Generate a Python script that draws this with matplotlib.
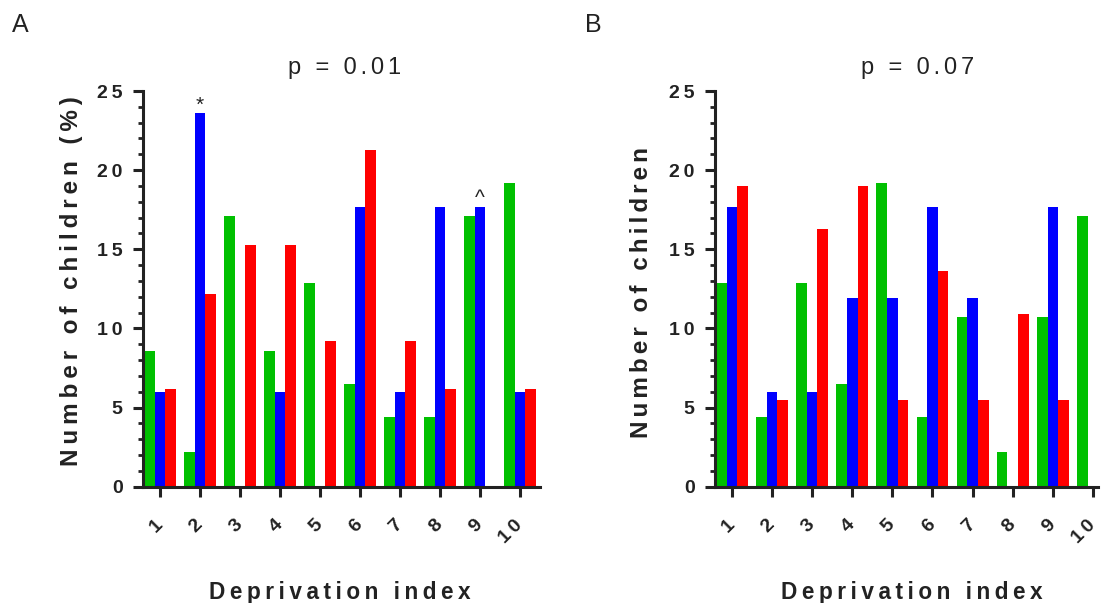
import matplotlib
matplotlib.use('Agg')
import matplotlib.pyplot as plt
import numpy as np
from matplotlib.ticker import MultipleLocator

plt.rcParams['font.family'] = ['Liberation Sans', 'DejaVu Sans']

# ---- data ----
groups = [1, 2, 3, 4, 5, 6, 7, 8, 9, 10]
tick_labels = ['1', '2', '3', '4', '5', '6', '7', '8', '9', '10']
a_green = [8.6, 2.2, 17.1, 8.6, 12.9, 6.5, 4.4, 4.4, 17.1, 19.2]
a_blue = [6.0, 23.6, 0, 6.0, 0, 17.7, 6.0, 17.7, 17.7, 6.0]
a_red = [6.2, 12.2, 15.3, 15.3, 9.2, 21.3, 9.2, 6.2, 0, 6.2]
b_green = [12.9, 4.4, 12.9, 6.5, 19.2, 4.4, 10.7, 2.2, 10.7, 17.1]
b_blue = [17.7, 6.0, 6.0, 11.9, 11.9, 17.7, 11.9, 0, 17.7, 0]
b_red = [19.0, 5.5, 16.3, 19.0, 5.5, 13.6, 5.5, 10.9, 5.5, 0]
titles = ['p = 0.01', 'p = 0.07']
ylabels = ['Number of children (%)', 'Number of children']
xlabel = 'Deprivation index'
annot_a = [(2, 23.6, '*'), (9, 17.7, '^')]

GREEN, BLUE, RED = '#00C000', '#0000FF', '#FF0000'
INK = '#222222'
SP = '\u2009'
CANDIDATES = ['\u200a', '\u2006', '\u2009', '\u2005', '\u2008', '\u2004',
              '\u2009\u200a', '\u2009\u2006', '\u2009\u2009', '\u2009\u2005']


def spaced(s, sep=SP):
    return sep.join(list(s))


W, H = 1105, 603
fig = plt.figure(figsize=(W / 100, H / 100), dpi=100)
renderer = fig.canvas.get_renderer()


def fit_text(xpx, ypx, s, target_len, rotation=0, **kw):
    """Place letter-spaced text, choosing the spacing whose length best fits."""
    best = None
    for sep in CANDIDATES:
        t = fig.text(xpx / W, 1 - ypx / H, spaced(s, sep), rotation=rotation, **kw)
        bb = t.get_window_extent(renderer)
        length = bb.height if rotation == 90 else bb.width
        err = abs(length - target_len)
        if best is None or err < best[0]:
            if best is not None:
                best[1].remove()
            best = (err, t)
        else:
            t.remove()
    return best[1]


axA = fig.add_axes([143 / W, 1 - 486.7 / H, (540 - 143) / W, (486.7 - 91) / H])
axB = fig.add_axes([715 / W, 1 - 486.7 / H, (1098 - 715) / W, (486.7 - 91) / H])

bw = 0.265
x = np.array(groups, dtype=float)
for ax, g, b, r, xl in [(axA, a_green, a_blue, a_red, (0.575, 10.5)),
                        (axB, b_green, b_blue, b_red, (0.58, 10.125))]:
    ax.bar(x - bw, g, width=bw, color=GREEN, linewidth=0)
    ax.bar(x, b, width=bw, color=BLUE, linewidth=0)
    ax.bar(x + bw, r, width=bw, color=RED, linewidth=0)
    ax.set_xlim(*xl)
    ax.set_ylim(0, 25)
    for s in ['top', 'right']:
        ax.spines[s].set_visible(False)
    for s in ['left', 'bottom']:
        ax.spines[s].set_linewidth(2.2)
        ax.spines[s].set_color(INK)
    ax.yaxis.set_major_locator(MultipleLocator(5))
    ax.yaxis.set_minor_locator(MultipleLocator(1))
    ax.set_yticks([0, 5, 10, 15, 20, 25])
    ax.set_yticklabels([spaced(str(v)) for v in [0, 5, 10, 15, 20, 25]])
    ax.set_xticks(groups)
    ax.set_xticklabels([spaced(t) for t in tick_labels])
    ax.tick_params(axis='both', which='major', length=7.2, width=2.2, color=INK,
                   labelcolor=INK, labelsize=14)
    ax.tick_params(axis='y', which='minor', length=3.6, width=2.0, color=INK)
    ax.tick_params(axis='y', which='major', pad=7.5)
    ax.tick_params(axis='x', which='major', pad=18.5)
    for lab in ax.get_yticklabels():
        lab.set_fontweight('bold')
    for lab in ax.get_xticklabels():
        lab.set_fontweight('bold')
        lab.set_rotation(45)
        lab.set_ha('right')
        lab.set_va('center')
        lab.set_rotation_mode('anchor')

for xg, yv, s in annot_a:
    axA.annotate(s, xy=(xg, yv), xytext=(0, -1), textcoords='offset points',
                 ha='center', va='bottom', fontsize=15, color=INK)

# titles
fit_text(344.5, 74, titles[0], 115, ha='center', va='baseline', fontsize=17, color=INK)
fit_text(917.5, 74, titles[1], 115, ha='center', va='baseline', fontsize=17, color=INK)

# panel letters
fig.text(12 / W, 1 - 32 / H, 'A', ha='left', va='baseline', fontsize=18, color=INK)
fig.text(585 / W, 1 - 32 / H, 'B', ha='left', va='baseline', fontsize=18, color=INK)

# y labels
fit_text(72, 281.5, ylabels[0], 377, rotation=90, ha='center', va='center',
         fontsize=17.5, fontweight='bold', color=INK)
fit_text(641, 292.5, ylabels[1], 289, rotation=90, ha='center', va='center',
         fontsize=17.5, fontweight='bold', color=INK)

# x labels
fit_text(339.5, 599, xlabel, 265, ha='center', va='baseline',
         fontsize=16.3, fontweight='bold', color=INK)
fit_text(912, 599, xlabel, 265, ha='center', va='baseline',
         fontsize=16.3, fontweight='bold', color=INK)

fig.savefig('out.png', dpi=100)
